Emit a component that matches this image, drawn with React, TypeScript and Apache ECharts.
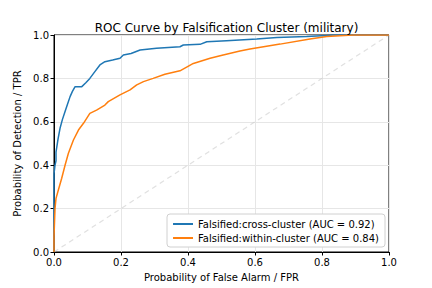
import React, { useEffect, useRef } from "react";
import * as echarts from "echarts";

const crossFpr = [0, 0, 0.003, 0.006, 0.006, 0.012, 0.018, 0.025, 0.033, 0.04, 0.048, 0.055, 0.063, 0.083, 0.095, 0.107, 0.122, 0.137, 0.152, 0.175, 0.197, 0.207, 0.23, 0.257, 0.306, 0.376, 0.386, 0.436, 0.456, 0.515, 0.605, 0.665, 0.754, 0.814, 0.83, 1.0];
const crossTpr = [0, 0.36, 0.40, 0.42, 0.46, 0.52, 0.57, 0.61, 0.647, 0.68, 0.716, 0.74, 0.762, 0.762, 0.78, 0.80, 0.831, 0.862, 0.877, 0.885, 0.893, 0.908, 0.915, 0.931, 0.939, 0.946, 0.954, 0.957, 0.969, 0.974, 0.982, 0.988, 0.993, 0.998, 1.0, 1.0];

const withinFpr = [0, 0, 0.003, 0.006, 0.013, 0.023, 0.033, 0.043, 0.058, 0.073, 0.088, 0.107, 0.127, 0.152, 0.162, 0.197, 0.227, 0.247, 0.267, 0.296, 0.331, 0.376, 0.396, 0.416, 0.466, 0.505, 0.555, 0.585, 0.675, 0.764, 0.814, 0.893, 1.0];
const withinTpr = [0, 0.07, 0.2, 0.247, 0.286, 0.34, 0.40, 0.455, 0.516, 0.562, 0.593, 0.639, 0.654, 0.677, 0.693, 0.724, 0.747, 0.77, 0.785, 0.80, 0.819, 0.835, 0.852, 0.869, 0.893, 0.908, 0.926, 0.935, 0.958, 0.982, 0.993, 1.0, 1.0];

const chanceLine = [0, 1];

const seriesNames = [
  "Falsified:cross-cluster (AUC = 0.92)",
  "Falsified:within-cluster (AUC = 0.84)",
];

const FONT = "DejaVu Sans";

export default function App() {
  const ref = useRef<HTMLDivElement>(null);
  useEffect(() => {
    if (!ref.current) return;
    const chart = echarts.init(ref.current, null, { renderer: "svg" });
    const zip = (xs: number[], ys: number[]) => xs.map((x, i) => [x, ys[i]]);
    const axisCommon = {
      type: "value" as const,
      min: 0,
      max: 1,
      interval: 0.2,
      nameLocation: "middle" as const,
      nameTextStyle: { fontFamily: FONT, fontSize: 10, color: "#000" },
      axisLine: { show: true, lineStyle: { color: "#000", width: 1 } },
      axisTick: { show: true, length: 3.5, lineStyle: { color: "#000" } },
      axisLabel: {
        fontFamily: FONT,
        fontSize: 10,
        color: "#000",
        margin: 5,
        formatter: (v: number) => v.toFixed(1),
      },
      splitLine: { show: true, lineStyle: { color: "#e6e6e6", width: 1 } },
    };
    chart.setOption({
      animation: false,
      backgroundColor: "#fff",
      title: {
        text: "ROC Curve by Falsification Cluster (military)",
        left: 221.5,
        textAlign: "center",
        top: 17,
        textStyle: { fontFamily: FONT, fontSize: 12, fontWeight: "normal", color: "#000" },
      },
      grid: {
        left: 54,
        right: 43,
        top: 35,
        bottom: 36,
        show: true,
        borderColor: "#000",
        borderWidth: 1,
        backgroundColor: "transparent",
      },
      xAxis: { ...axisCommon, name: "Probability of False Alarm / FPR", nameGap: 20 },
      yAxis: { ...axisCommon, name: "Probability of Detection / TPR", nameGap: 26 },
      legend: {
        orient: "vertical",
        right: 47,
        bottom: 41,
        backgroundColor: "#fff",
        borderColor: "#d0d0d0",
        borderWidth: 1,
        borderRadius: 3,
        padding: [5, 6, 4, 6],
        itemGap: 4,
        itemWidth: 20,
        itemHeight: 10,
        icon: "path://M0,4 L20,4 L20,6 L0,6 Z",
        textStyle: { fontFamily: FONT, fontSize: 10, color: "#000" },
        data: seriesNames,
      },
      series: [
        {
          type: "line",
          data: zip(chanceLine, chanceLine),
          symbol: "none",
          silent: true,
          lineStyle: { color: "#cccccc", width: 1.2, type: [5, 4], opacity: 0.6 },
          z: 1,
        },
        {
          name: seriesNames[0],
          type: "line",
          data: zip(crossFpr, crossTpr),
          symbol: "none",
          color: "#1f77b4",
          lineStyle: { color: "#1f77b4", width: 1.5 },
          z: 3,
        },
        {
          name: seriesNames[1],
          type: "line",
          data: zip(withinFpr, withinTpr),
          symbol: "none",
          color: "#ff7f0e",
          lineStyle: { color: "#ff7f0e", width: 1.5 },
          z: 4,
        },
      ],
    });
    return () => chart.dispose();
  }, []);
  return <div ref={ref} style={{ width: 432, height: 288, position: "fixed", left: 0, top: 0 }} />;
}
